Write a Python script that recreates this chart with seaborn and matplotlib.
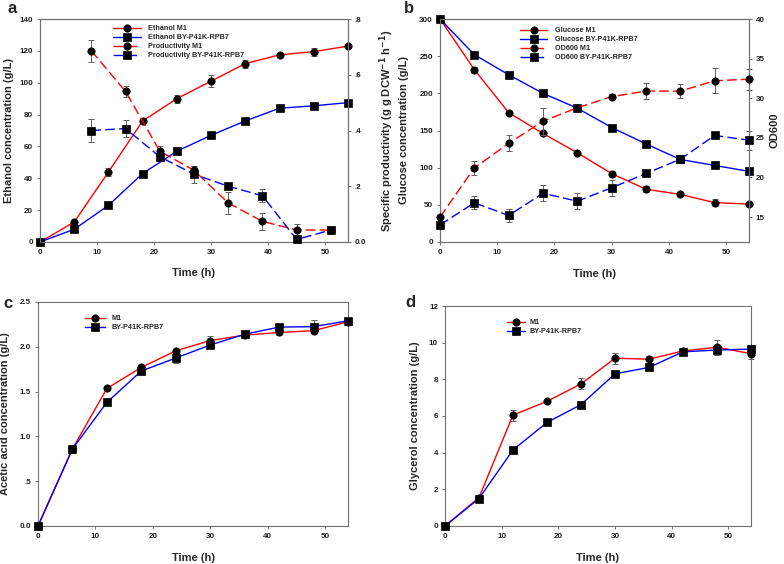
import numpy as np
import pandas as pd
import matplotlib
matplotlib.use("Agg")
import matplotlib.pyplot as plt
import seaborn as sns

# ---------------- data ----------------
time = [0, 6, 12, 18, 24, 30, 36, 42, 48, 54]
prod_time = [9, 15, 21, 27, 33, 39, 45, 51]

ethanol_m1 = [0, 12.5, 44, 76, 90, 101, 112, 117.5, 119.5, 123]
ethanol_m1_err = [0, 0.8, 2.5, 1.5, 2.5, 4, 2.5, 1, 2.5, 1]
ethanol_by = [0, 8, 23, 43, 57, 67, 76, 84, 85.5, 87.5]
ethanol_by_err = [0, 0.5, 0.5, 0.8, 0.8, 0.5, 0.5, 0.8, 1.5, 0.5]

prod_m1 = [0.686, 0.54, 0.326, 0.257, 0.14, 0.074, 0.043, 0.043]
prod_m1_err = [0.04, 0.02, 0.02, 0.017, 0.04, 0.03, 0.02, 0.005]
prod_by = [0.40, 0.407, 0.306, 0.243, 0.20, 0.166, 0.009, 0.043]
prod_by_err = [0.04, 0.03, 0.017, 0.03, 0.003, 0.023, 0.012, 0.005]

glucose_m1 = [300, 232, 174, 146, 120, 92, 71, 64, 53, 51]
glucose_m1_err = [0, 4, 2, 2, 2, 4, 4, 2, 5, 2]
glucose_by = [300, 252, 225, 200, 180, 154, 132, 111, 103, 95]
glucose_by_err = [0, 2, 2, 2, 2, 2, 2, 2, 2, 2]

od_m1 = [15.0, 21.2, 24.3, 27.1, 28.8, 30.2, 30.9, 30.9, 32.2, 32.4]
od_m1_err = [0.1, 0.9, 1.0, 1.7, 0.35, 0.3, 1.0, 0.9, 1.6, 1.3]
od_by = [14.0, 16.8, 15.2, 18.0, 17.0, 18.7, 20.5, 22.3, 25.3, 24.7]
od_by_err = [0.1, 0.8, 0.8, 1.0, 1.0, 1.0, 0.2, 0.2, 0.2, 1.2]

acetic_m1 = [0, 0.86, 1.535, 1.77, 1.955, 2.07, 2.13, 2.16, 2.18, 2.28]
acetic_m1_err = [0, 0.01, 0.02, 0.02, 0.02, 0.05, 0.02, 0.03, 0.03, 0.02]
acetic_by = [0, 0.86, 1.38, 1.73, 1.875, 2.02, 2.14, 2.22, 2.225, 2.29]
acetic_by_err = [0, 0.01, 0.01, 0.02, 0.06, 0.02, 0.03, 0.04, 0.07, 0.02]

glycerol_m1 = [0, 1.55, 6.05, 6.8, 7.75, 9.15, 9.1, 9.55, 9.75, 9.4]
glycerol_m1_err = [0, 0.05, 0.3, 0.1, 0.3, 0.3, 0.2, 0.1, 0.4, 0.3]
glycerol_by = [0, 1.5, 4.15, 5.65, 6.62, 8.3, 8.65, 9.5, 9.6, 9.65]
glycerol_by_err = [0, 0.05, 0.05, 0.05, 0.05, 0.05, 0.05, 0.05, 0.25, 0.25]

# ---------------- style ----------------
sns.set_style("ticks")
plt.rcParams['font.family'] = ['Liberation Sans', 'DejaVu Sans']
plt.rcParams['font.weight'] = 'bold'
plt.rcParams['axes.labelweight'] = 'bold'
plt.rcParams['mathtext.default'] = 'bf'

RED = "#ff0000"
BLUE = "#0000ff"
ERR = "#606060"
SPINE = "#707070"
TICK_FS = 5.8
LABEL_FS = 8
LEG_FS = 5.2

fig = plt.figure(figsize=(7.84, 5.64), dpi=100)

# pixel boxes (left, top, right, bottom)
def box(l, t, r, b):
    W, H = 784, 564
    return [l / W, 1 - b / H, (r - l) / W, (b - t) / H]

axA = fig.add_axes(box(40, 19, 348, 242))
axB = fig.add_axes(box(440, 19, 749, 242))
axC = fig.add_axes(box(38, 302, 348, 526))
axD = fig.add_axes(box(445, 306, 751, 526))


def series(ax, x, y, err, color, marker, ls, label):
    df = pd.DataFrame({"x": x, "y": y})
    kw = {}
    if ls == "--":
        kw["dashes"] = (7, 3)
    sns.lineplot(data=df, x="x", y="y", ax=ax, color=color,
                 lw=1.0, marker=marker, markersize=5.3, markerfacecolor="black",
                 markeredgecolor="black", markeredgewidth=0.5, label=label,
                 clip_on=False, zorder=3, **kw)
    ax.errorbar(x, y, yerr=err, fmt="none", ecolor=ERR, elinewidth=0.7,
                capsize=2.2, capthick=0.7, zorder=2, clip_on=False)


def fix_ticks(ax):
    ax.tick_params(labelsize=TICK_FS, length=2.5, width=0.7, pad=2.5,
                   direction="out", colors="#202020")
    ax.tick_params(color=SPINE)
    for lab in ax.get_xticklabels() + ax.get_yticklabels():
        lab.set_fontweight("bold")
    for s in ax.spines.values():
        s.set_visible(True)
        s.set_color(SPINE)
        s.set_linewidth(0.8)


def style_ax(ax, ylabel, yticks, yticklabels, ylim, ylab_x, xlab_y):
    ax.set_xlim(0, 54)
    ax.set_ylim(*ylim)
    ax.set_xticks([0, 10, 20, 30, 40, 50])
    ax.set_xticklabels(["0", "10", "20", "30", "40", "50"])
    ax.set_yticks(yticks)
    ax.set_yticklabels(yticklabels)
    ax.set_xlabel("Time (h)", fontsize=LABEL_FS, fontweight="bold")
    ax.set_ylabel(ylabel, fontsize=LABEL_FS, fontweight="bold")
    ax.yaxis.set_label_coords(ylab_x, 0.5)
    ax.xaxis.set_label_coords(0.5, xlab_y)
    fix_ticks(ax)


def style_twin(ax, ylabel, yticks, yticklabels, ylim, ylab_x):
    ax.set_ylim(*ylim)
    ax.set_yticks(yticks)
    ax.set_yticklabels(yticklabels)
    ax.set_ylabel(ylabel, fontsize=LABEL_FS, fontweight="bold", rotation=90)
    ax.yaxis.set_label_coords(ylab_x, 0.5)
    fix_ticks(ax)


def legend(ax, handles, labels, x, y, hl, tp):
    leg = ax.legend(handles, labels, loc="upper left", bbox_to_anchor=(x, y),
                    frameon=False, handlelength=hl, labelspacing=0.28,
                    handletextpad=tp, borderpad=0, borderaxespad=0,
                    prop={"weight": "bold", "size": LEG_FS})
    return leg


# ---- panel a ----
axA2 = axA.twinx()
series(axA, time, ethanol_m1, ethanol_m1_err, RED, "o", "-", "Ethanol M1")
series(axA, time, ethanol_by, ethanol_by_err, BLUE, "s", "-", "Ethanol BY-P41K-RPB7")
series(axA2, prod_time, prod_m1, prod_m1_err, RED, "o", "--", "Productivity M1")
series(axA2, prod_time, prod_by, prod_by_err, BLUE, "s", "--", "Productivity BY-P41K-RPB7")
style_ax(axA, "Ethanol concentration (g/L)", [0, 20, 40, 60, 80, 100, 120, 140],
         ["0", "20", "40", "60", "80", "100", "120", "140"], (0, 140), -0.086, -0.117)
style_twin(axA2, "Specific productivity (g g DCW$^{-1}$ h$^{-1}$)",
           [0, 0.2, 0.4, 0.6, 0.8], ["0.0", ".2", ".4", ".6", ".8"], (0, 0.8), 1.094)
axA.set_xlim(0, 54)
hA1, lA1 = axA.get_legend_handles_labels()
hA2, lA2 = axA2.get_legend_handles_labels()
axA2.get_legend().remove()
legend(axA, hA1 + hA2, lA1 + lA2, 0.237, 0.973, 3.9, 1.0)

# ---- panel b ----
axB2 = axB.twinx()
series(axB, time, glucose_m1, glucose_m1_err, RED, "o", "-", "Glucose M1")
series(axB, time, glucose_by, glucose_by_err, BLUE, "s", "-", "Glucose BY-P41K-RPB7")
series(axB2, time, od_m1, od_m1_err, RED, "o", "--", "OD600 M1")
series(axB2, time, od_by, od_by_err, BLUE, "s", "--", "OD600 BY-P41K-RPB7")
style_ax(axB, "Glucose concentration (g/L)", [0, 50, 100, 150, 200, 250, 300],
         ["0", "50", "100", "150", "200", "250", "300"], (0, 300), -0.099, -0.121)
style_twin(axB2, "OD600", [15, 20, 25, 30, 35, 40],
           ["15", "20", "25", "30", "35", "40"], (11.85, 40), 1.066)
axB.set_xlim(0, 54)
hB1, lB1 = axB.get_legend_handles_labels()
hB2, lB2 = axB2.get_legend_handles_labels()
axB2.get_legend().remove()
legend(axB, hB1 + hB2, lB1 + lB2, 0.259, 0.964, 3.8, 1.0)

# ---- panel c ----
series(axC, time, acetic_m1, acetic_m1_err, RED, "o", "-", "M1")
series(axC, time, acetic_by, acetic_by_err, BLUE, "s", "-", "BY-P41K-RPB7")
style_ax(axC, "Acetic acid concentration (g/L)", [0, 0.5, 1.0, 1.5, 2.0, 2.5],
         ["0.0", ".5", "1.0", "1.5", "2.0", "2.5"], (0, 2.5), -0.089, -0.12)
hC, lC = axC.get_legend_handles_labels()
legend(axC, hC, lC, 0.152, 0.942, 2.7, 0.9)

# ---- panel d ----
series(axD, time, glycerol_m1, glycerol_m1_err, RED, "o", "-", "M1")
series(axD, time, glycerol_by, glycerol_by_err, BLUE, "s", "-", "BY-P41K-RPB7")
style_ax(axD, "Glycerol concentration (g/L)", [0, 2, 4, 6, 8, 10, 12],
         ["0", "2", "4", "6", "8", "10", "12"], (0, 12), -0.083, -0.123)
hD, lD = axD.get_legend_handles_labels()
legend(axD, hD, lD, 0.203, 0.941, 2.5, 0.6)

# panel letters
fig.text(7 / 784, 1 - 1 / 564, "a", fontsize=12, fontweight="bold", va="top")
fig.text(404 / 784, 1 - 1 / 564, "b", fontsize=12, fontweight="bold", va="top")
fig.text(3 / 784, 1 - 296 / 564, "c", fontsize=12, fontweight="bold", va="top")
fig.text(405 / 784, 1 - 295 / 564, "d", fontsize=12, fontweight="bold", va="top")

fig.savefig("out.png", dpi=100)
